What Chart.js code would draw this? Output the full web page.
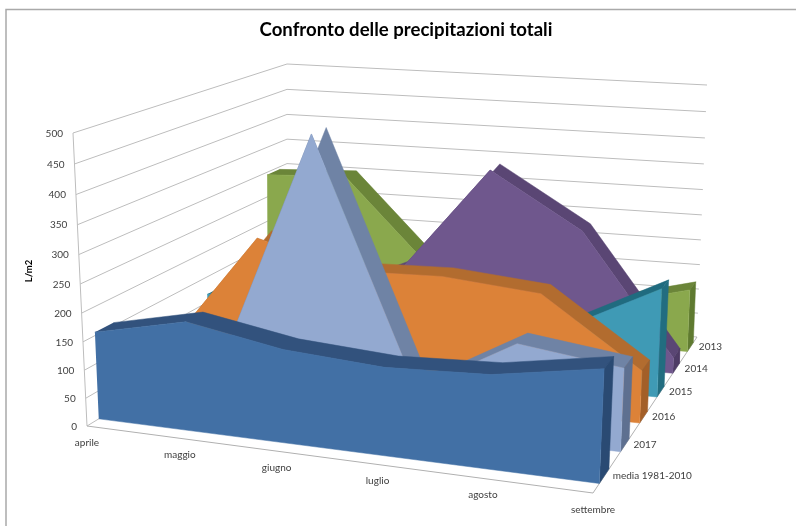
<!DOCTYPE html>
<html><head><meta charset="utf-8">
<style>html,body{margin:0;padding:0;background:#fff}#wrap{width:796px;height:526px;position:relative}canvas{filter:blur(0.4px)}</style>
<script src="https://cdn.jsdelivr.net/npm/chart.js@4"></script>
</head><body><div id="wrap"><canvas id="c" width="796" height="526"></canvas></div>
<script>
const categories = ['aprile','maggio','giugno','luglio','agosto','settembre'];
const seriesNames = ['media 1981-2010','2017','2016','2015','2014','2013'];
const media = [156,192,163,152,160,190];
const y2017 = [90,100,490,70,168,145];
const y2016 = [65,270,225,230,215,95];
const y2015 = [116,150,140,120,112,202];
const y2014 = [60,90,165,362,260,30];
const y2013 = [295,302,135,100,80,125];
const valueTicks = [0,50,100,150,200,250,300,350,400,450,500];
const seriesValues = [media,y2017,y2016,y2015,y2014,y2013];
const chartTitle = 'Confronto delle precipitazioni totali';
const valueAxisTitle = 'L/m2';

// colours of [front, top, side] faces for each series
const faceColors = [
  ['#4270a5','#32527d','#2a4a73'],
  ['#93a9d0','#6f83a5','#5e7090'],
  ['#dc8238','#b26c2f','#a35f28'],
  ['#3f9ab5','#206b7f','#226d80'],
  ['#6f578d','#5a4674','#4e3c66'],
  ['#8aa84d','#6b8539','#5f7a30']
];

// perspective box: screen corners of the floor and the ceiling planes
const FLOOR = [[87,426],[593,493],[697,337],[287,304]];
const CEIL  = [[73,133],[606,175],[707,85],[287,64]];
const V_WEIGHT = 0.94, U_WEIGHT = 1.07, W_FRONT = 0.28, W_BACK = 0.72;

function homography(q){
  const [[x0,y0],[x1,y1],[x2,y2],[x3,y3]] = q;
  const dx1=x1-x2,dx2=x3-x2,sx=x0-x1+x2-x3,dy1=y1-y2,dy2=y3-y2,sy=y0-y1+y2-y3;
  const den=dx1*dy2-dx2*dy1, g=(sx*dy2-dx2*sy)/den, h=(dx1*sy-sx*dy1)/den;
  const a=x1-x0+g*x1,b=x3-x0+h*x3,d=y1-y0+g*y1,e=y3-y0+h*y3;
  return (u,w)=>{const k=g*u+h*w+1;return [(a*u+b*w+x0)/k,(d*u+e*w+y0)/k];};
}
const floorH = homography(FLOOR), ceilH = homography(CEIL);
function project(catIndex, value, depth){
  const u = catIndex/(categories.length-1), w = depth/seriesNames.length, t = value/500;
  const f = V_WEIGHT*t/(1+t*(V_WEIGHT-1));
  const uf = U_WEIGHT*u/(1+u*(U_WEIGHT-1));
  const p0 = floorH(uf,w), p1 = ceilH(u,w);
  return {x:p0[0]+f*(p1[0]-p0[0]), y:p0[1]+f*(p1[1]-p0[1])};
}

const datasets = [];
let order = 100000;
function add(label, data, color, isLine){
  datasets.push({label, data, order:order--, clip:false, pointRadius:0, pointHoverRadius:0, tension:0,
    borderColor: color, borderWidth:isLine?1:0.5, backgroundColor:color, fill:isLine?false:'shape'});
}
// walls and floor
const last = categories.length-1, nS = seriesNames.length;
valueTicks.forEach(v=>add('griglia '+v,[project(0,v,0),project(0,v,nS),project(last,v,nS)],'#bdbdbd',true));
add('asse valori',[project(0,0,0),project(0,500,0)],'#bdbdbd',true);
add('asse categorie',[project(0,0,0),project(last,0,0),project(last,0,nS)],'#b0b0b0',true);
// series from back to front
for(let s=nS-1;s>=0;s--){
  const vals = seriesValues[s], wF=s+W_FRONT, wB=s+W_BACK, col=faceColors[s], name=seriesNames[s];
  const frontLine = vals.map((v,i)=>project(i,v,wF));
  const backLine = vals.map((v,i)=>project(i,v,wB));
  add(name+' top', frontLine.concat(backLine.slice().reverse()), col[1]);
  add(name+' side',[project(last,vals[last],wF),project(last,vals[last],wB),project(last,0,wB),project(last,0,wF)],col[2]);
  add(name, frontLine.concat([project(last,0,wF),project(0,0,wF)]), col[0]);
}

const FONT = 'Lato, "Open Sans", sans-serif';
const TITLE_SIZE = 18.6, TITLE_PAD = 19, LEFT_PAD = 16;
const textPlugin = {
  id:'boxText',
  beforeDraw(chart){
    const ctx=chart.ctx; ctx.save(); ctx.strokeStyle='#a9a9a9'; ctx.lineWidth=1.5;
    ctx.beginPath(); ctx.moveTo(6,530); ctx.lineTo(6,9.5); ctx.lineTo(800,9.5); ctx.stroke(); ctx.restore();
  },
  afterDraw(chart){
    const ctx=chart.ctx, X=chart.scales.x, Y=chart.scales.y;
    const px=p=>[X.getPixelForValue(p.x),Y.getPixelForValue(p.y)];
    ctx.save(); ctx.fillStyle='#404040'; ctx.font='10px '+FONT; ctx.textBaseline='middle';
    ctx.textAlign='right';
    valueTicks.forEach(v=>{const [x,y]=px(project(0,v,0)); ctx.fillText(String(v),x-10,y+0.5);});
    ctx.textAlign='center';
    categories.forEach((c,i)=>{const [x,y]=px(project(i,0,0)); ctx.fillText(c,x,y+16.5);});
    ctx.textAlign='left';
    seriesNames.forEach((n,s)=>{const [x,y]=px(project(last,0,s+0.5)); ctx.fillText(n,x+8.5,y);});
    ctx.fillStyle='#000'; ctx.font='bold 9.5px '+FONT; ctx.textAlign='center';
    ctx.translate(28.5,271); ctx.rotate(-Math.PI/2); ctx.fillText(valueAxisTitle,0,0);
    ctx.restore();
  }
};
new Chart(document.getElementById('c'),{
  type:'line',
  data:{datasets},
  plugins:[textPlugin],
  options:{
    responsive:false, animation:false, events:[],
    layout:{padding:{left:LEFT_PAD,right:0,top:0,bottom:0}},
    scales:{
      x:{type:'linear',display:false,min:LEFT_PAD,max:796},
      y:{type:'linear',display:false,reverse:true,min:TITLE_PAD+TITLE_SIZE*1.2,max:526}
    },
    plugins:{
      legend:{display:false},tooltip:{enabled:false},
      title:{display:true,text:chartTitle,color:'#000',font:{family:FONT,size:TITLE_SIZE,weight:'bold',lineHeight:1.2},padding:{top:TITLE_PAD,bottom:0}}
    }
  }
});
</script></body></html>
